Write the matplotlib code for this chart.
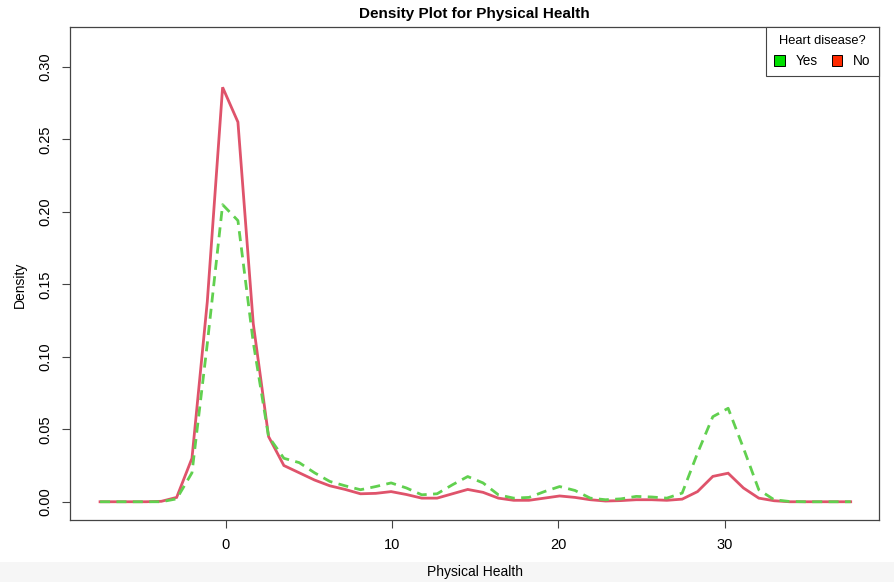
import numpy as np
import matplotlib
matplotlib.use("Agg")
import matplotlib.pyplot as plt
from matplotlib.patches import Patch, Rectangle

plt.rcParams['font.family'] = ['Liberation Sans', 'DejaVu Sans']

# density estimate grid (50 points)
x_grid = np.linspace(-7.55, 37.56, 50)

# Heart disease = No
dens_no = [0, 0, 0, 0, 0.0003, 0.003, 0.030, 0.138, 0.286, 0.262,
           0.123, 0.045, 0.025, 0.020, 0.015, 0.011, 0.0085, 0.0055, 0.0058, 0.007,
           0.005, 0.0025, 0.0025, 0.0055, 0.0085, 0.0065, 0.0025, 0.001, 0.001, 0.0025,
           0.004, 0.003, 0.0014, 0.0005, 0.0008, 0.0014, 0.0014, 0.001, 0.0018, 0.007,
           0.0175, 0.0197, 0.0095, 0.0025, 0.0007, 0, 0, 0, 0, 0]

# Heart disease = Yes
dens_yes = [0, 0, 0, 0, 0, 0.002, 0.020, 0.109, 0.205, 0.194,
            0.110, 0.045, 0.030, 0.027, 0.020, 0.014, 0.011, 0.0083, 0.0105, 0.013,
            0.0095, 0.0048, 0.0055, 0.0117, 0.0174, 0.013, 0.0048, 0.0025, 0.003, 0.007,
            0.0105, 0.0078, 0.0025, 0.0014, 0.002, 0.0037, 0.0033, 0.0025, 0.006, 0.0335,
            0.0587, 0.0645, 0.037, 0.0083, 0.0014, 0.0002, 0, 0, 0, 0]

x_ticks = [0, 10, 20, 30]
y_ticks = [0.00, 0.05, 0.10, 0.15, 0.20, 0.25, 0.30]

fig = plt.figure(figsize=(8.94, 5.82), dpi=100)
# faint grey band at the bottom of the screenshot
fig.patches.append(Rectangle((0, 0), 1, 0.035, transform=fig.transFigure,
                             facecolor="#f6f6f6", edgecolor="none", zorder=0))
ax = fig.add_axes([0.0786, 0.1065, 0.9046, 0.8466])

ax.plot(x_grid, dens_no, color="#DF536B", lw=2.0, solid_joinstyle="miter")
ax.plot(x_grid, dens_yes, color="#61D04F", lw=2.0, dashes=(3.6, 2.3))

ax.set_xlim(-9.34, 39.26)
ax.set_ylim(-0.0126, 0.3274)
ax.set_xticks(x_ticks)
ax.set_xticklabels([str(t) for t in x_ticks])
ax.set_yticks(y_ticks)
ax.set_yticklabels([f"{t:.2f}" for t in y_ticks], rotation=90, va="center")
ax.tick_params(axis="both", direction="out", length=6, width=0.8, color="#444444",
               labelsize=10.5, pad=7)

for s in ax.spines.values():
    s.set_color("#444444")
    s.set_linewidth(0.9)

ax.set_title("Density Plot for Physical Health", fontsize=11, fontweight="bold", pad=7)
fig.text(0.5316, (582 - 572) / 582, "Physical Health", fontsize=10, ha="center", va="center")
fig.text(20 / 894, (582 - 285) / 582, "Density", fontsize=10, rotation=90,
         ha="center", va="center")

handles = [Patch(facecolor="#00E000", edgecolor="black", linewidth=0.7, label="Yes"),
           Patch(facecolor="#FF2A00", edgecolor="black", linewidth=0.7, label="No")]
leg = ax.legend(handles=handles, title="Heart disease?", loc="upper right", ncol=2,
                fontsize=9.8, title_fontsize=9.3, fancybox=False, framealpha=1,
                edgecolor="#444444", borderaxespad=0, handlelength=0.8, handleheight=0.8,
                handletextpad=0.8, columnspacing=1.0, borderpad=0.6)
leg.get_frame().set_linewidth(0.8)

fig.savefig("out.png", dpi=100)
